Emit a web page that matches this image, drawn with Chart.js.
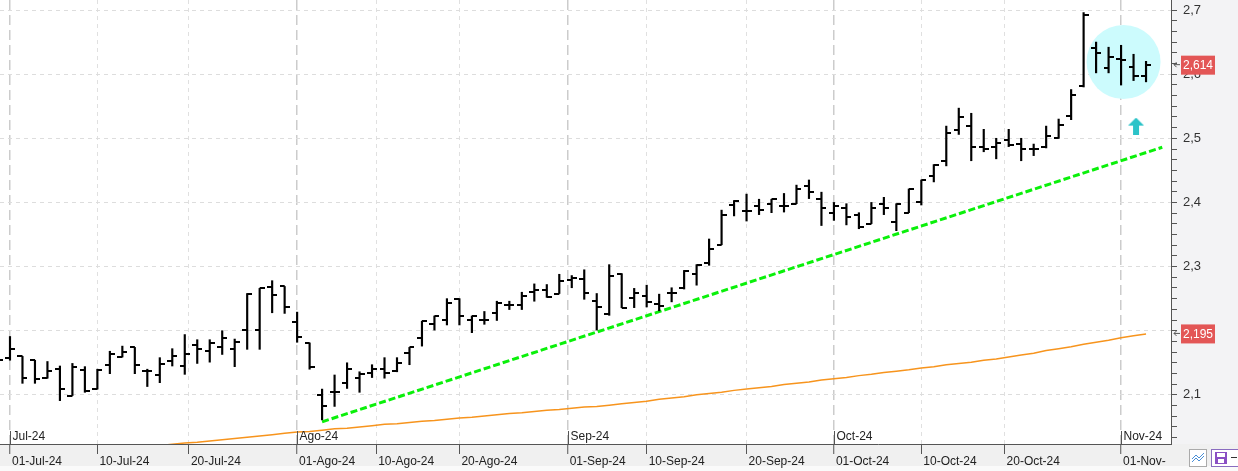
<!DOCTYPE html>
<html>
<head>
<meta charset="utf-8">
<script src="https://cdn.jsdelivr.net/npm/chart.js@4.4.1/dist/chart.umd.min.js"></script>
<style>
  html, body { margin: 0; padding: 0; background: #f0f0f0; }
  #wrap { width: 1238px; height: 471px; }
</style>
</head>
<body>
<div id="wrap"><canvas id="chart" width="1238" height="471"></canvas></div>
<script>
// trading-day index: -1 = 28-Jun-24, 0 = 01-Jul-24 ... 91 = 05-Nov-24
const firstIndex = -1;

const opens = [2.150,
  2.158, 2.160, 2.154, 2.126, 2.141, 2.099, 2.139, 2.109, 2.147, 2.159,
  2.174, 2.137, 2.131, 2.153, 2.145, 2.177, 2.169, 2.174, 2.172, 2.201,
  2.201, 2.268, 2.269, 2.214, 2.181, 2.100, 2.105, 2.119, 2.127, 2.134,
  2.141, 2.137, 2.166, 2.189, 2.210, 2.216, 2.250, 2.216, 2.216, 2.228,
  2.240, 2.240, 2.260, 2.264, 2.258, 2.279, 2.281, 2.246, 2.226, 2.289,
  2.251, 2.254, 2.242, 2.259, 2.266, 2.288, 2.306, 2.334, 2.396, 2.386,
  2.395, 2.398, 2.395, 2.398, 2.425, 2.405, 2.384, 2.391, 2.381, 2.367,
  2.398, 2.370, 2.384, 2.400, 2.441, 2.465, 2.513, 2.519, 2.487, 2.487,
  2.497, 2.491, 2.484, 2.486, 2.500, 2.535, 2.581, 2.640, 2.610, 2.624,
  2.611, 2.597];
const highs = [2.160,
  2.191, 2.160, 2.154, 2.152, 2.145, 2.149, 2.144, 2.140, 2.168, 2.176,
  2.174, 2.140, 2.158, 2.172, 2.194, 2.186, 2.186, 2.200, 2.187, 2.258,
  2.266, 2.278, 2.269, 2.229, 2.181, 2.109, 2.131, 2.150, 2.136, 2.147,
  2.158, 2.158, 2.174, 2.215, 2.223, 2.250, 2.250, 2.223, 2.230, 2.246,
  2.246, 2.260, 2.273, 2.272, 2.288, 2.286, 2.295, 2.258, 2.303, 2.289,
  2.266, 2.271, 2.257, 2.267, 2.294, 2.303, 2.343, 2.388, 2.403, 2.413,
  2.405, 2.405, 2.414, 2.427, 2.435, 2.416, 2.400, 2.398, 2.384, 2.400,
  2.408, 2.398, 2.421, 2.435, 2.459, 2.519, 2.547, 2.539, 2.514, 2.500,
  2.514, 2.500, 2.491, 2.519, 2.530, 2.576, 2.696, 2.650, 2.642, 2.645,
  2.631, 2.620];
const lows = [2.140,
  2.154, 2.118, 2.118, 2.126, 2.091, 2.099, 2.104, 2.109, 2.133, 2.159,
  2.133, 2.113, 2.119, 2.145, 2.132, 2.149, 2.151, 2.163, 2.144, 2.171,
  2.171, 2.228, 2.227, 2.182, 2.140, 2.061, 2.082, 2.110, 2.104, 2.127,
  2.126, 2.136, 2.147, 2.176, 2.201, 2.209, 2.209, 2.197, 2.210, 2.216,
  2.233, 2.233, 2.246, 2.252, 2.258, 2.267, 2.249, 2.201, 2.224, 2.236,
  2.236, 2.237, 2.231, 2.245, 2.265, 2.271, 2.302, 2.334, 2.379, 2.371,
  2.381, 2.384, 2.385, 2.398, 2.406, 2.364, 2.372, 2.365, 2.359, 2.367,
  2.381, 2.356, 2.384, 2.396, 2.432, 2.457, 2.506, 2.465, 2.479, 2.468,
  2.487, 2.465, 2.473, 2.485, 2.500, 2.529, 2.580, 2.602, 2.602, 2.583,
  2.590, 2.588];
const closes = [2.154,
  2.172, 2.126, 2.125, 2.137, 2.109, 2.144, 2.106, 2.139, 2.163, 2.167,
  2.147, 2.137, 2.148, 2.160, 2.163, 2.172, 2.181, 2.189, 2.182, 2.258,
  2.266, 2.255, 2.237, 2.190, 2.144, 2.083, 2.104, 2.140, 2.132, 2.141,
  2.134, 2.150, 2.174, 2.215, 2.223, 2.243, 2.223, 2.223, 2.216, 2.243,
  2.240, 2.254, 2.264, 2.252, 2.278, 2.282, 2.259, 2.237, 2.286, 2.236,
  2.259, 2.244, 2.239, 2.259, 2.293, 2.303, 2.328, 2.381, 2.403, 2.386,
  2.388, 2.405, 2.394, 2.421, 2.416, 2.392, 2.395, 2.377, 2.362, 2.391,
  2.392, 2.398, 2.421, 2.435, 2.459, 2.508, 2.533, 2.487, 2.483, 2.492,
  2.490, 2.484, 2.484, 2.503, 2.521, 2.568, 2.692, 2.633, 2.626, 2.622,
  2.597, 2.614];
// moving average (orange)
const maValues = [1.996,
  1.998, 2.000, 2.002, 2.004, 2.006, 2.008, 2.009, 2.011, 2.013, 2.015,
  2.017, 2.019, 2.021, 2.023, 2.025, 2.026, 2.028, 2.030, 2.032, 2.034,
  2.036, 2.038, 2.040, 2.042, 2.043, 2.045, 2.047, 2.048, 2.050, 2.052,
  2.054, 2.055, 2.057, 2.059, 2.060, 2.062, 2.064, 2.065, 2.067, 2.069,
  2.071, 2.072, 2.074, 2.076, 2.077, 2.079, 2.081, 2.082, 2.084, 2.086,
  2.088, 2.090, 2.093, 2.095, 2.097, 2.100, 2.102, 2.104, 2.107, 2.109,
  2.111, 2.113, 2.116, 2.118, 2.120, 2.123, 2.125, 2.127, 2.130, 2.132,
  2.135, 2.137, 2.139, 2.142, 2.144, 2.147, 2.149, 2.151, 2.154, 2.156,
  2.159, 2.162, 2.165, 2.169, 2.172, 2.175, 2.179, 2.182, 2.185, 2.189,
  2.192, 2.195];

// support trend line (green)
const trendX = [25, 92.3];
const trendY = [2.058, 2.486];

// highlight circle and arrow
const markX = 89.2, markY = 2.619;
const arrowX = 90.2, arrowY = 2.519;

// x axis labels
const dateTicks = [0, 7, 14.33, 23, 29.33, 36, 44.67, 51, 59, 66, 73, 79.67, 89];
const dateLabels = ['01-Jul-24', '10-Jul-24', '20-Jul-24', '01-Ago-24', '10-Ago-24', '20-Ago-24',
  '01-Sep-24', '10-Sep-24', '20-Sep-24', '01-Oct-24', '10-Oct-24', '20-Oct-24', '01-Nov-'];
const monthTicks = [0, 23, 44.67, 66, 89];
const monthLabels = ['Jul-24', 'Ago-24', 'Sep-24', 'Oct-24', 'Nov-24'];

// y axis labels
const yTickValues = [2.1, 2.2, 2.3, 2.4, 2.5, 2.6, 2.7];
const yTickLabels = ['2,1', '2,2', '2,3', '2,4', '2,5', '2,6', '2,7'];

const FONT = "'Liberation Sans', Arial, sans-serif";

function makeTick(side) {
    const c = document.createElement('canvas');
    c.width = 10; c.height = 2;
    const g = c.getContext('2d');
    g.fillStyle = '#000';
    if (side === 'left') g.fillRect(0, 0, 5, 2);
    else g.fillRect(5, 0, 5, 2);
    return c;
}

function makeArrow() {
    const c = document.createElement('canvas');
    c.width = 16; c.height = 17;
    const g = c.getContext('2d');
    g.fillStyle = '#2cc3c8';
    g.beginPath();
    g.moveTo(8, 0); g.lineTo(16, 8); g.lineTo(0, 8);
    g.closePath();
    g.fill();
    g.fillRect(5, 8, 6, 9);
    return c;
}

const isMonth = v => monthTicks.some(m => Math.abs(m - v) < 1e-6);
const majorIndex = v => yTickValues.findIndex(m => Math.abs(m - v) < 1e-6);

const idx = opens.map((_, i) => firstIndex + i);

// backgrounds, month labels, price boxes and the little toolbar
const decor = {
    id: 'decor',
    beforeDraw(chart) {
        const {ctx, chartArea: a, width, height} = chart;
        ctx.save();
        ctx.fillStyle = '#f0f0f0';
        ctx.fillRect(0, 0, width, height);
        ctx.fillStyle = '#f3f3f5';
        ctx.fillRect(a.right, 0, width - a.right, a.bottom);
        ctx.fillStyle = '#fafafa';
        ctx.fillRect(0, height - 5, width, 5);
        ctx.fillStyle = '#fff';
        ctx.fillRect(a.left, a.top, a.right - a.left, a.bottom - a.top);
        ctx.restore();
    },
    afterDraw(chart) {
        const {ctx, chartArea: a} = chart;
        const xs = chart.scales.x, ys = chart.scales.y;
        ctx.save();
        // month labels inside the plot
        ctx.font = '12px ' + FONT;
        ctx.fillStyle = '#222';
        ctx.textBaseline = 'middle';
        ctx.textAlign = 'left';
        ctx.strokeStyle = '#555';
        ctx.lineWidth = 1;
        monthTicks.forEach((m, i) => {
            const px = Math.round(xs.getPixelForValue(m)) + 0.5;
            ctx.beginPath();
            ctx.moveTo(px, a.bottom - 13);
            ctx.lineTo(px, a.bottom);
            ctx.stroke();
            ctx.fillText(monthLabels[i], px + 2, a.bottom - 7);
        });
        // price boxes on the right axis
        const boxes = [closes[closes.length - 1], maValues[maValues.length - 1]];
        boxes.forEach(v => {
            const py = ys.getPixelForValue(v);
            ctx.fillStyle = '#e35656';
            ctx.fillRect(a.right + 10, py - 9.5, 34, 19);
            ctx.fillStyle = '#fff';
            ctx.font = '12px ' + FONT;
            ctx.fillText(v.toFixed(3).replace('.', ','), a.right + 12, py + 0.5);
            ctx.strokeStyle = '#555';
            ctx.beginPath();
            ctx.moveTo(a.right + 3, py - 0.5);
            ctx.lineTo(a.right + 9, py - 0.5);
            ctx.moveTo(a.right + 5.5, py - 3);
            ctx.lineTo(a.right + 3, py - 0.5);
            ctx.lineTo(a.right + 5.5, py + 2);
            ctx.stroke();
        });
        // toolbar buttons at the bottom right
        ctx.fillStyle = '#fff';
        ctx.strokeStyle = '#aaa';
        ctx.fillRect(1189.5, 449.5, 17, 17);
        ctx.strokeRect(1189.5, 449.5, 17, 17);
        ctx.strokeStyle = '#4a8fd6';
        ctx.beginPath();
        ctx.moveTo(1192, 459); ctx.lineTo(1196, 455); ctx.lineTo(1199, 458); ctx.lineTo(1204, 453);
        ctx.moveTo(1192, 462); ctx.lineTo(1196, 458); ctx.lineTo(1199, 461); ctx.lineTo(1204, 456);
        ctx.stroke();
        ctx.fillStyle = '#fff';
        ctx.strokeStyle = '#8a6cc0';
        ctx.fillRect(1211.5, 449.5, 30, 17);
        ctx.strokeRect(1211.5, 449.5, 30, 17);
        ctx.fillStyle = '#8a4fc4';
        ctx.fillRect(1215, 452, 12, 12);
        ctx.fillStyle = '#fff';
        ctx.fillRect(1217, 453, 8, 4);
        ctx.fillRect(1218, 459, 6, 4);
        ctx.fillStyle = '#333';
        ctx.fillRect(1231, 457, 6, 1);
        ctx.restore();
    }
};

new Chart(document.getElementById('chart'), {
    type: 'scatter',
    data: {
        datasets: [
            {
                type: 'bar',
                data: idx.map((x, i) => ({x: x, y: [lows[i], highs[i]]})),
                backgroundColor: '#000',
                borderWidth: 0,
                barThickness: 1.5,
                order: 1
            },
            {
                data: idx.map((x, i) => ({x: x, y: opens[i]})),
                pointStyle: makeTick('left'),
                order: 0
            },
            {
                data: idx.map((x, i) => ({x: x, y: closes[i]})),
                pointStyle: makeTick('right'),
                order: 0
            },
            {
                type: 'line',
                data: idx.map((x, i) => ({x: x, y: maValues[i]})),
                borderColor: '#f7941d',
                borderWidth: 1.5,
                pointRadius: 0,
                order: 5
            },
            {
                type: 'line',
                data: trendX.map((x, i) => ({x: x, y: trendY[i]})),
                borderColor: '#0af00a',
                borderWidth: 3,
                borderDash: [7, 3],
                pointRadius: 0,
                order: 4
            },
            {
                type: 'bubble',
                data: [{x: markX, y: markY}],
                radius: 37,
                backgroundColor: '#ccfbfd',
                borderWidth: 0,
                order: 10
            },
            {
                data: [{x: arrowX, y: arrowY}],
                pointStyle: makeArrow(),
                order: 2
            }
        ]
    },
    options: {
        responsive: false,
        animation: false,
        events: [],
        layout: {padding: 0, autoPadding: false},
        plugins: {legend: {display: false}, tooltip: {enabled: false}},
        scales: {
            x: {
                type: 'linear',
                position: 'bottom',
                min: -0.8,
                max: 93,
                offset: false,
                afterBuildTicks: axis => {
                    axis.ticks = dateTicks.map(v => ({value: v}));
                },
                afterFit: axis => {
                    axis.height = 27;
                    axis.paddingLeft = 0;
                    axis.paddingRight = 0;
                },
                ticks: {
                    autoSkip: false,
                    maxRotation: 0,
                    align: 'start',
                    labelOffset: 2,
                    padding: 0,
                    color: '#222',
                    font: {family: FONT, size: 12},
                    callback: v => {
                        const i = dateTicks.findIndex(d => Math.abs(d - v) < 1e-6);
                        return i >= 0 ? dateLabels[i] : '';
                    }
                },
                grid: {
                    offset: false,
                    color: c => (c.tick && isMonth(c.tick.value)) ? '#cccccc' : '#e0e0e0',
                    lineWidth: c => (c.tick && isMonth(c.tick.value)) ? 1.5 : 1,
                    tickColor: '#555',
                    tickWidth: 1,
                    tickLength: 10
                },
                border: {
                    display: true,
                    color: '#555',
                    width: 1,
                    dash: c => !c.tick ? [] : (isMonth(c.tick.value) ? [10, 5] : [4, 4])
                }
            },
            y: {
                type: 'linear',
                position: 'right',
                min: 2.0234,
                max: 2.7156,
                beginAtZero: false,
                afterBuildTicks: axis => {
                    const ticks = [];
                    const start = yTickValues[0] - 0.1;
                    for (let k = 0; k <= 6 * yTickValues.length; k++) {
                        const v = Math.round((start + k / 60) * 10000) / 10000;
                        if (v >= axis.min && v <= axis.max) ticks.push({value: v});
                    }
                    axis.ticks = ticks;
                },
                afterFit: axis => {
                    axis.width = 67;
                    axis.paddingTop = 0;
                    axis.paddingBottom = 0;
                },
                ticks: {
                    autoSkip: false,
                    padding: 6,
                    color: '#333',
                    font: {family: FONT, size: 13},
                    callback: v => {
                        const i = majorIndex(v);
                        return i >= 0 ? yTickLabels[i] : '';
                    }
                },
                grid: {
                    color: c => (c.tick && majorIndex(c.tick.value) >= 0) ? '#dddddd' : 'rgba(0,0,0,0)',
                    tickColor: '#555',
                    tickWidth: 1,
                    tickLength: 6
                },
                border: {
                    display: true,
                    color: '#555',
                    width: 1,
                    dash: c => c.tick ? [4, 4] : []
                }
            }
        }
    },
    plugins: [decor]
});
</script>
</body>
</html>
